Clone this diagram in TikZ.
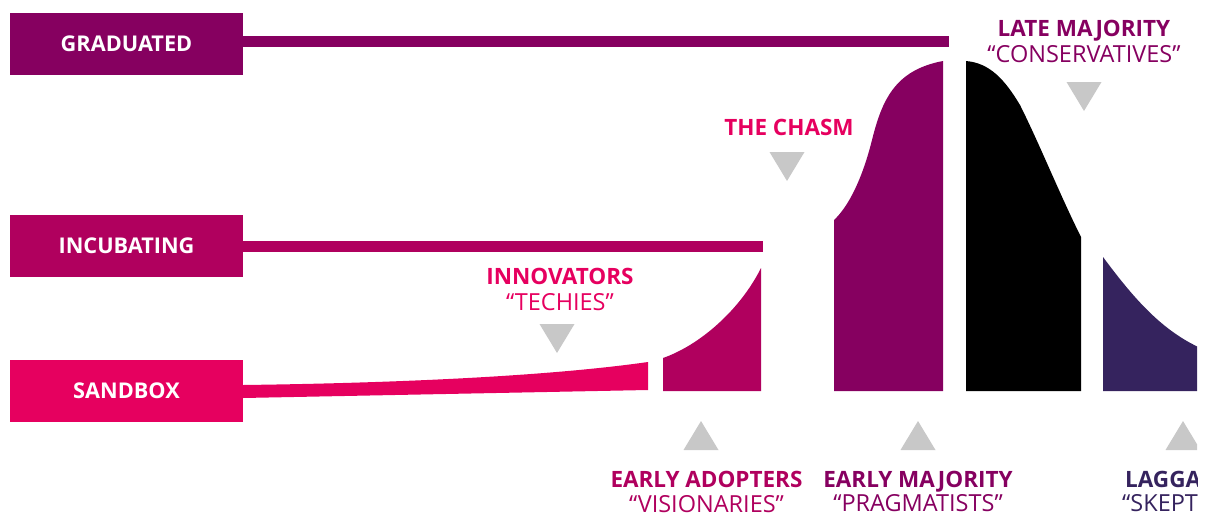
\documentclass[tikz,border=0pt]{standalone}
\usepackage{fontspec}
\setmainfont{Open Sans}
\definecolor{cgrad}{RGB}{134,0,96}
\definecolor{cincub}{RGB}{176,0,94}
\definecolor{csand}{RGB}{230,0,95}
\definecolor{clag}{RGB}{53,35,94}
\definecolor{ctri}{RGB}{200,200,200}
\tikzset{
  lvlbox/.style={fill=#1, minimum width=233pt, minimum height=62pt, inner sep=0pt,
    text=white, font=\fontsize{21.7}{24}\selectfont\bfseries},
  lbl/.style={anchor=base, text=#1, inner sep=0pt, font=\fontsize{22.5}{24}\selectfont\bfseries},
  qlbl/.style={anchor=base, text=#1, inner sep=0pt, font=\fontsize{23.5}{24}\selectfont},
  tri/.style={fill=ctri},
  downtri/.pic={\fill[tri] (-17.5,0) -- (17.5,0) -- (0,29) -- cycle;},
  uptri/.pic={\fill[tri] (-17.5,29) -- (17.5,29) -- (0,0) -- cycle;},
  bar/.style={line width=11pt, draw=#1}
}
\begin{document}
\begin{tikzpicture}[x=1pt,y=-1pt]
\useasboundingbox (0,0) rectangle (1211,512);
\begin{scope}
\clip (0,0) rectangle (1197,512);
% level boxes
\node[lvlbox=cgrad] (grad) at (126.5,44) {GRADUATED};
\node[lvlbox=cincub] (incub) at (126.5,246) {INCUBATING};
\node[lvlbox=csand] (sand) at (126.5,391) {SANDBOX};
% connectors
\coordinate (gradend) at (949,41.5);
\coordinate (incubend) at (763,246);
\draw[bar=cgrad] (grad.east |- gradend) -- (gradend);
\draw[bar=cincub] (grad.east |- incubend) -- (incubend);
% adoption curve segments
\fill[csand] (243,385) .. controls (400,383) and (550,376) .. (648,362) -- (648,390) -- (243,398) -- cycle;
\fill[cincub] (663,391) -- (663,358) .. controls (700,345) and (740,310) .. (761,268) -- (761,391) -- cycle;
\fill[cgrad] (834,391) -- (834,220) .. controls (848,207) and (862,180) .. (872,140)
  .. controls (882,100) and (895,70) .. (943,61) -- (943,391) -- cycle;
\fill[black] (966,391) -- (966,61) .. controls (990,63) and (1005,80) .. (1020,105)
  .. controls (1040,145) and (1060,195) .. (1081,237) -- (1081,391) -- cycle;
\fill[clag] (1103,391) -- (1103,257) .. controls (1135,300) and (1165,335) .. (1210,352) -- (1210,391) -- cycle;
% pointers
\pic at (557,324) {downtri};
\pic at (787,152) {downtri};
\pic at (1084,82) {downtri};
\pic at (701,421) {uptri};
\pic at (918,421) {uptri};
\pic at (1183,421) {uptri};
% labels
\node[lbl=cgrad] (lateM) at (1084,36) {LATE MAJORITY};
\node[qlbl=cgrad] (lateQ) at (1084,62) {“CONSERVATIVES”};
\node[lbl=csand] (chasm) at (789,135) {THE CHASM};
\node[lbl=csand] (innov) at (560,284) {INNOVATORS};
\node[qlbl=csand] (innovQ) at (560,310) {“TECHIES”};
\node[lbl=cincub] (earlyA) at (706.5,487) {EARLY ADOPTERS};
\node[qlbl=cincub] (earlyAQ) at (706.5,512) {“VISIONARIES”};
\node[lbl=cgrad] (earlyM) at (918,487) {EARLY MAJORITY};
\node[qlbl=cgrad] (earlyMQ) at (918,511) {“PRAGMATISTS”};
\node[lbl=clag, anchor=base west] (lag) at (1125,487) {LAGGARDS};
\node[qlbl=clag, anchor=base west] (lagQ) at (1122,511) {“SKEPTICS”};
\end{scope}
\end{tikzpicture}
\end{document}
